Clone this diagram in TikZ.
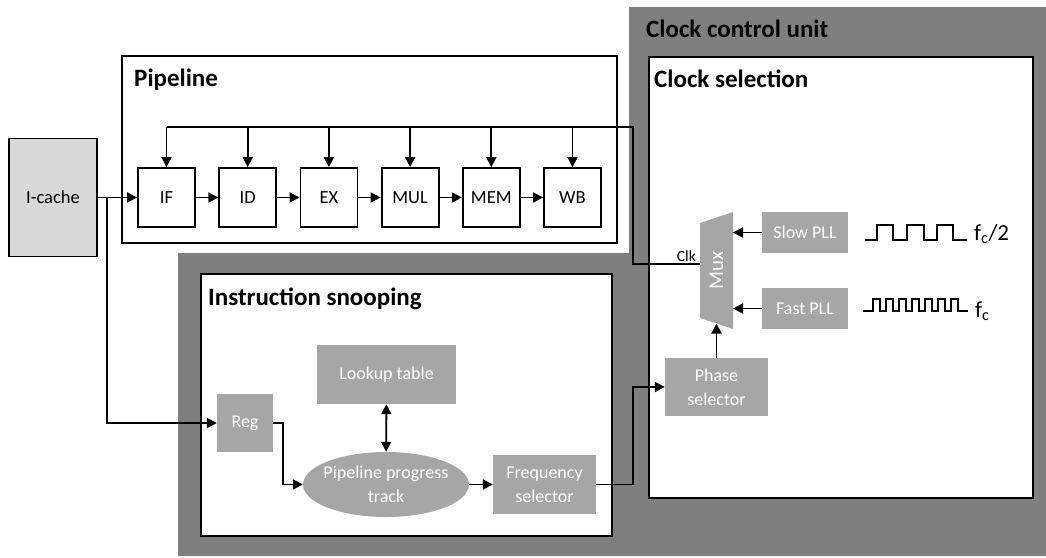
\documentclass[tikz,border=0pt]{standalone}
\usepackage{fontspec}
\setmainfont{Carlito}
\usetikzlibrary{arrows.meta, positioning, shapes.geometric, calc}
\definecolor{unitgray}{HTML}{7F7F7F}
\definecolor{blockgray}{HTML}{A6A6A6}
\definecolor{cachegray}{HTML}{D9D9D9}

\begin{document}
\begin{tikzpicture}[
    x=1pt, y=-1pt,
    frame/.style={draw, line width=2.2pt, fill=white, inner sep=0},
    title/.style={anchor=base west, inner sep=0, font=\bfseries\fontsize{25}{28}\selectfont},
    stage/.style={draw, line width=1.8pt, fill=#1, minimum width=57, minimum height=59, inner sep=0, font=\fontsize{18.5}{20}\selectfont},
    blk/.style={fill=blockgray, text=white, align=center, inner sep=0, font=\fontsize{18}{24}\selectfont},
    wire/.style={line width=1.9pt},
    arr/.style={wire, -{Triangle[length=10pt, width=10pt]}},
    wave/.style={line width=1.8pt},
]

\useasboundingbox (0,0) rectangle (1046,557);

% Clock control unit background
\fill[unitgray] (629,7) -- (1046,7) -- (1046,556) -- (178,556) -- (178,253) -- (629,253) -- cycle;
\node[title] at (646,37) {Clock control unit};

% Frames
\node[frame, minimum width=495, minimum height=187] (pipe) at (369.5,149.5) {};
\node[frame, minimum width=384, minimum height=441] (csel) at (841,277.5) {};
\node[frame, minimum width=411, minimum height=262] (snoop) at (406.5,405) {};
\node[title] at (134,86) {Pipeline};
\node[title] at (654,87) {Clock selection};
\node[title] at (208,305) {Instruction snooping};

% Pipeline stages
\node[stage=cachegray, minimum width=88, minimum height=118] (icache) at (53,197.5) {I-cache};
\foreach \name/\lbl [count=\i from 0] in {if/IF, id/ID, ex/EX, mul/MUL, mem/MEM, wb/WB}
    \node[stage=white] (\name) at ({166.5+81.2*\i},197.5) {\lbl};
\foreach \a/\b in {if/id, id/ex, ex/mul, mul/mem, mem/wb}
    \draw[arr] (\a) -- (\b);

% Instruction snooping
\node[blk, minimum width=56, minimum height=58] (reg) at (245,423) {Reg};
\node[blk, minimum width=139, minimum height=59] (lut) at (386.5,374.5) {Lookup table};
\node[blk, ellipse, minimum width=166, minimum height=65] (ppt) at (386,484.5) {};
\node[blk, fill=none] at (ppt) {Pipeline progress\\track};
\node[blk, minimum width=103, minimum height=59] (fsel) at (544.5,484.5) {Frequency\\selector};

% Clock selection
\fill[blockgray] (700,223) -- (733,212) -- (733,329) -- (700,318) -- cycle;
\node[text=white, rotate=90, font=\fontsize{21}{24}\selectfont] (mux) at (716.5,270.5) {Mux};
\coordinate (mux in) at (700,264);
\coordinate (mux east) at (733,270.5);
\coordinate (mux bot) at (716.5,323.5);
\node[blk, minimum width=86, minimum height=41] (slow) at (805,232.5) {Slow PLL};
\node[blk, minimum width=86, minimum height=41] (fast) at (805,308.5) {Fast PLL};
\node[blk, minimum width=103, minimum height=58] (phase) at (716.5,387) {Phase\\selector};
\node[anchor=south east, inner sep=1pt, font=\fontsize{15.5}{17}\selectfont] (clk) at (697,263) {Clk};

% Clock waveforms
\draw[wave] (865,240) -- (877,240) -- (877,225) -- (893,225) -- (893,240) -- (907,240) -- (907,225)
    -- (924,225) -- (924,240) -- (937,240) -- (937,225) -- (953,225) -- (953,240) -- (967,240);
\draw[wave] (863,311) -- (873,311) \foreach \k in {1,...,7} { -- ++(0,-12) -- ++(7,0) -- ++(0,12) -- ++(6,0) } -- ++(4,0);
\node[anchor=base west, inner sep=0, font=\fontsize{23}{24}\selectfont] (fhalf) at (974,240) {f\textsubscript{c}/2};
\node[anchor=base west, inner sep=0, font=\fontsize{23}{24}\selectfont] (ffull) at (975,317) {f\textsubscript{c}};

% Connections
\coordinate (split) at (107,197.5);
\coordinate (bus) at (633,127);
\coordinate (turn) at (633,387);
\draw[arr] (icache) -- (if);
\draw[arr] (split) |- (reg);
\draw[wire] (mux in) -| (bus) -- (bus -| if);
\foreach \name in {if, id, ex, mul, mem, wb}
    \draw[arr] (bus -| \name) -- (\name);
\draw[arr] (reg.east) -- ++(10,0) |- (ppt.west);
\draw[wire, {Triangle[length=10pt, width=10pt]}-{Triangle[length=10pt, width=10pt]}] (lut) -- (ppt);
\draw[arr] (ppt) -- (fsel);
\draw[arr] (fsel.east) -| (turn) -- (phase.west);
\draw[arr] (phase) -- (mux bot);
\draw[arr] (slow) -- (slow -| mux east);
\draw[arr] (fast) -- (fast -| mux east);

\end{tikzpicture}
\end{document}
